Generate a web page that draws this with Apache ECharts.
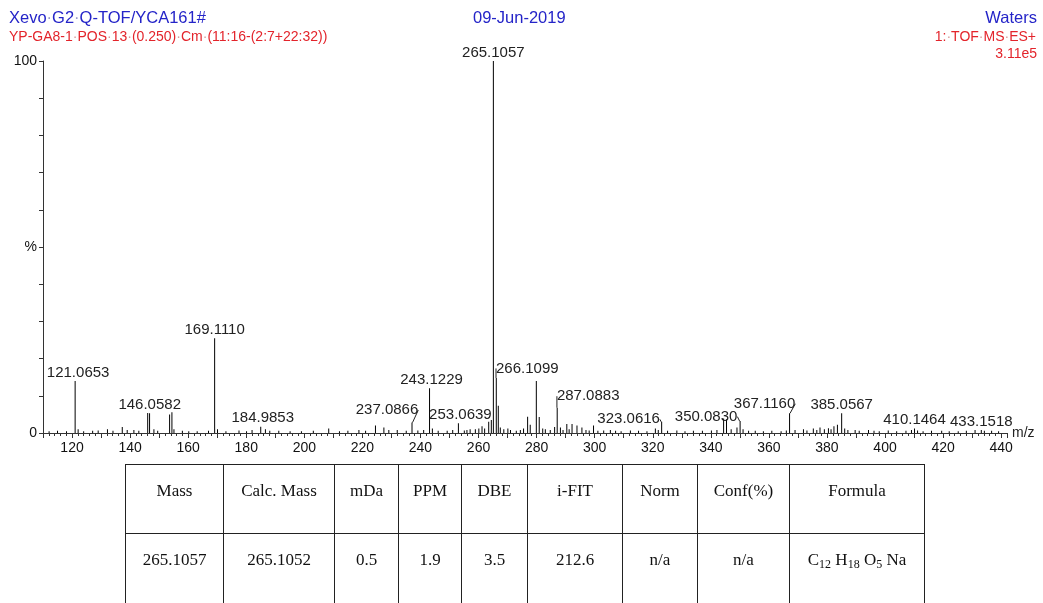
<!DOCTYPE html>
<html>
<head>
<meta charset="utf-8">
<script src="https://cdn.jsdelivr.net/npm/echarts@6/dist/echarts.min.js"></script>
<style>
  body { margin: 0; background: #fff; }
  #chart { position: absolute; left: 0; top: 0; width: 1043px; height: 603px; }
  #tbl {
    position: absolute; left: 125px; top: 464px;
    border-collapse: collapse; table-layout: fixed;
    font-family: "Liberation Serif", "Times New Roman", serif; font-size: 17px; color: #111;
  }
  #tbl td {
    border: 1.5px solid #222; text-align: center; vertical-align: top;
    padding: 16px 0 0 0; white-space: nowrap;
  }
  #tbl tr.h td { height: 52px; }
  #tbl tr.d td { height: 56px; }
  #tbl sub { font-size: 12px; vertical-align: -3px; line-height: 0; }
</style>
</head>
<body>
<div id="chart"></div>
<table id="tbl"></table>
<script>
// labelled peaks (m/z, relative intensity %)
const labeledMz = [121.0653, 146.0582, 169.1110, 184.9853, 237.0866, 243.1229, 253.0639, 265.1057,
  266.1099, 287.0883, 323.0616, 350.0830, 367.1160, 385.0567, 410.1464, 433.1518];
const labeledPct = [14.0, 5.4, 25.5, 1.7, 2.8, 12.0, 2.6, 100, 14.8, 6.8, 3.0, 3.2, 5.3, 5.3, 1.2, 0.8];

// unlabelled peaks
const otherMz = [112.1, 115.0, 118.1, 122.1, 124.0, 127.1, 129.0, 132.2, 134.1, 137.3, 139.0, 141.3, 143.0,
  146.7, 148.2, 149.5, 153.6, 154.4, 155.1, 158.0, 160.2, 163.1, 167.0, 170.1, 173.0, 177.5, 180.1, 182.0,
  186.6, 188.1, 191.2, 195.1, 199.0, 203.1, 208.4, 212.1, 215.0, 218.8, 221.1, 224.5, 227.4, 229.1, 232.0,
  235.1, 239.1, 241.1, 244.1, 246.1, 249.2, 251.1, 255.1, 256.0, 257.1, 258.9, 260.1, 261.2, 262.1, 263.5,
  264.4, 266.8, 267.5, 268.7, 270.1, 271.0, 273.0, 274.4, 275.5, 276.9, 277.8, 279.9, 280.9, 282.1, 283.0,
  284.7, 286.2, 288.2, 289.1, 290.4, 291.2, 292.2, 293.9, 295.6, 297.0, 298.1, 299.6, 301.1, 303.1, 305.4,
  307.2, 309.1, 312.3, 315.1, 318.0, 320.9, 321.9, 325.1, 328.3, 331.1, 334.0, 337.1, 340.2, 342.1, 344.4,
  345.4, 347.0, 349.0, 351.1, 353.0, 355.3, 358.1, 361.0, 364.2, 366.0, 369.0, 371.9, 373.1, 375.3, 376.5,
  377.6, 379.1, 380.5, 381.4, 382.4, 383.6, 386.1, 387.2, 389.7, 391.1, 394.3, 396.2, 398.0, 401.1, 404.0,
  407.2, 409.1, 411.2, 413.1, 416.0, 419.5, 422.1, 425.2, 428.0, 431.0, 434.2, 436.7, 439.1];
const otherPct = [0.5, 0.6, 0.5, 1.0, 0.5, 0.6, 0.7, 1.0, 0.6, 1.6, 0.8, 0.8, 0.6,
  5.3, 1.0, 0.6, 5.0, 5.6, 1.0, 0.6, 0.5, 0.5, 0.6, 1.0, 0.5, 0.7, 0.5, 0.8,
  1.0, 0.6, 0.6, 0.5, 0.5, 0.6, 1.2, 0.5, 0.6, 0.8, 0.6, 2.0, 1.5, 0.8, 0.8,
  0.6, 0.7, 0.8, 1.2, 0.6, 0.6, 0.8, 0.7, 0.8, 1.0, 1.0, 1.2, 1.8, 1.2, 3.0,
  3.5, 7.3, 1.5, 1.0, 1.2, 0.8, 0.6, 0.8, 1.2, 4.4, 2.2, 14.0, 4.3, 1.2, 1.0,
  0.8, 1.6, 1.5, 0.8, 2.4, 1.0, 2.4, 2.0, 1.5, 0.8, 0.7, 2.0, 0.6, 0.7, 0.8,
  0.6, 0.5, 0.7, 0.6, 0.5, 1.2, 0.8, 0.6, 0.7, 0.5, 0.6, 0.6, 0.7, 0.8, 3.9,
  3.7, 1.0, 1.5, 1.0, 0.6, 0.6, 0.5, 0.6, 0.5, 0.7, 0.8, 1.0, 0.7, 1.2, 0.8,
  1.5, 1.0, 1.3, 1.0, 1.8, 2.2, 1.2, 0.8, 0.8, 0.6, 0.8, 0.6, 0.5, 0.7, 0.5,
  0.6, 0.8, 0.7, 0.5, 0.6, 0.6, 0.5, 0.5, 0.6, 0.8, 0.6, 0.6, 0.5];

const yTickLabels = { 100: '100', 50: '%', 0: '0' };

const tableHead = ['Mass', 'Calc. Mass', 'mDa', 'PPM', 'DBE', 'i-FIT', 'Norm', 'Conf(%)', 'Formula'];
const tableRow = ['265.1057', '265.1052', '0.5', '1.9', '3.5', '212.6', 'n/a', 'n/a', 'C<sub>12</sub> H<sub>18</sub> O<sub>5</sub> Na'];
const colWidths = [98, 111, 64, 63, 66, 95, 75, 92, 135];

// table
const tbl = document.getElementById('tbl');
let html = '<colgroup>' + colWidths.map(w => '<col style="width:' + w + 'px">').join('') + '</colgroup>';
html += '<tr class="h">' + tableHead.map(t => '<td>' + t + '</td>').join('') + '</tr>';
html += '<tr class="d">' + tableRow.map(t => '<td>' + t + '</td>').join('') + '</tr>';
tbl.innerHTML = html;

// label shifts for the ones drawn with a leader line
const shift = {
  '237.0866': [-25, -4], '266.1099': [31, -1], '287.0883': [31, -3],
  '323.0616': [-33, 6], '350.0830': [-34, 4], '367.1160': [-25, -1],
  '121.0653': [3, 0], '146.0582': [2, 0], '184.9853': [2, 0], '243.1229': [2, 0], '253.0639': [2, 0]
};
const leader = ['237.0866', '266.1099', '287.0883', '323.0616', '350.0830', '367.1160'];

const peaks = [];
labeledMz.forEach((mz, i) => {
  const txt = mz.toFixed(4);
  peaks.push({
    value: [mz, labeledPct[i]],
    name: txt,
    label: { show: true, formatter: txt },
    labelLine: { show: leader.includes(txt) }
  });
});
otherMz.forEach((mz, i) => peaks.push({ value: [mz, otherPct[i]] }));

const dots = s => s.split(' ').join('{d|·}');
const font = '"Liberation Sans", Arial, sans-serif';

const chart = echarts.init(document.getElementById('chart'));
chart.setOption({
  animation: false,
  grid: { left: 43, right: 36, top: 61, bottom: 170 },
  xAxis: {
    type: 'value', min: 110, max: 442, interval: 10,
    name: 'm/z', nameLocation: 'end', nameGap: 5,
    nameTextStyle: { fontFamily: font, fontSize: 14, color: '#222' },
    axisLine: { lineStyle: { color: '#333', width: 1 } },
    axisTick: { length: 5, lineStyle: { color: '#333' } },
    minorTick: { show: true, splitNumber: 5, length: 3, lineStyle: { color: '#333' } },
    axisLabel: {
      margin: 8, fontFamily: font, fontSize: 14, color: '#111',
      formatter: v => (v % 20 === 0 ? String(v) : '')
    },
    splitLine: { show: false }
  },
  yAxis: {
    type: 'value', min: 0, max: 100, interval: 10,
    axisLine: { show: true, lineStyle: { color: '#333', width: 1 } },
    axisTick: { show: true, length: 4, lineStyle: { color: '#333' } },
    axisLabel: {
      margin: 6, fontFamily: font, fontSize: 14, color: '#111',
      formatter: v => yTickLabels[v] || ''
    },
    splitLine: { show: false }
  },
  series: [{
    type: 'bar',
    barWidth: 1,
    itemStyle: { color: '#000' },
    label: {
      show: false, position: 'top', distance: 1,
      fontFamily: font, fontSize: 15, color: '#222'
    },
    labelLine: { lineStyle: { color: '#222', width: 1 } },
    labelLayout: p => {
      const s = shift[p.text];
      return s ? { dx: s[0], dy: s[1] } : {};
    },
    data: peaks
  }],
  graphic: [
    { type: 'text', left: 9, top: 10, style: { text: dots('Xevo G2 Q-TOF/YCA161#'), fill: '#2424c8', font: '16.5px ' + font, rich: { d: { fill: '#9a9ac8', font: '16.5px ' + font } } } },
    { type: 'text', left: 9, top: 30, style: { text: dots('YP-GA8-1 POS 13 (0.250) Cm (11:16-(2:7+22:32))'), fill: '#e3242b', font: '14px ' + font, rich: { d: { fill: '#d89a9a', font: '14px ' + font } } } },
    { type: 'text', left: 473, top: 10, style: { text: '09-Jun-2019', fill: '#2424c8', font: '16.5px ' + font } },
    { type: 'text', right: 6, top: 10, style: { text: 'Waters', fill: '#2424c8', font: '16.5px ' + font } },
    { type: 'text', right: 7, top: 30, style: { text: dots('1: TOF MS ES+'), fill: '#e3242b', font: '14px ' + font, rich: { d: { fill: '#d89a9a', font: '14px ' + font } } } },
    { type: 'text', right: 6, top: 47, style: { text: '3.11e5', fill: '#e3242b', font: '14px ' + font } }
  ]
});
</script>
</body>
</html>
